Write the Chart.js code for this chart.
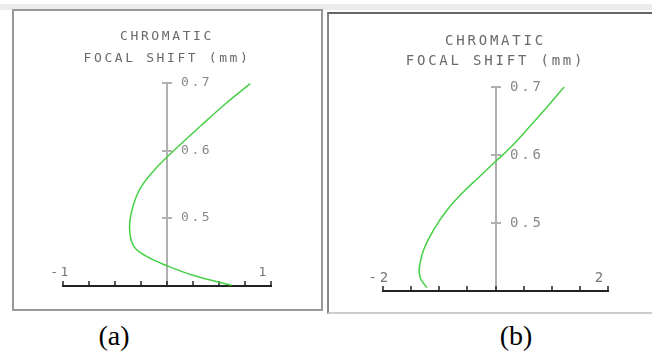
<!DOCTYPE html>
<html>
<head>
<meta charset="utf-8">
<script src="https://cdn.jsdelivr.net/npm/chart.js@4.4.1/dist/chart.umd.min.js"></script>
<style>
  html, body { margin: 0; padding: 0; background: #fff; }
  body { width: 652px; height: 352px; position: relative; overflow: hidden; }
  .band { position: absolute; left: 0; top: 4px; width: 652px; height: 6px; background: #ececec; }
  .frame { position: absolute; box-sizing: border-box; border: 2px solid #999; }
  #frameA { left: 12px; top: 9px; width: 311px; height: 302px; }
  #frameB { left: 327px; top: 12px; width: 340px; height: 302px; border-color: #666 #bbb #ccc #888; }
  canvas { position: absolute; }
  #chartA { left: 14px; top: 12px; }
  #chartB { left: 330px; top: 15px; }
  .caption { position: absolute; top: 320px; width: 60px; text-align: center;
             font-family: 'Liberation Serif', 'Times New Roman', serif; font-size: 28px; color: #000; }
</style>
</head>
<body>
<div class="band"></div>
<div class="frame" id="frameA"></div>
<div class="frame" id="frameB"></div>
<canvas id="chartA" width="305" height="296"></canvas>
<canvas id="chartB" width="322" height="296"></canvas>
<div class="caption" style="left:84px">(a)</div>
<div class="caption" style="left:486px">(b)</div>
<script>
const titleLines = ['CHROMATIC', 'FOCAL SHIFT (mm)'];
const yTicks = [0.5, 0.6, 0.7];
const yRange = [0.4, 0.7];

// (a) focal shift curve
const shiftAX = [0.80, 0.56, 0.32, 0.10, -0.10, -0.25, -0.33, -0.36, -0.32, -0.20, 0.00, 0.25, 0.62];
const shiftAY = [0.699, 0.669, 0.636, 0.605, 0.575, 0.546, 0.516, 0.485, 0.459, 0.444, 0.430, 0.416, 0.401];
const xRangeA = [-1, 1];
const xLabelsA = ['-1', '1'];

// (b) focal shift curve
const shiftBX = [1.22, 0.92, 0.60, 0.28, -0.02, -0.30, -0.58, -0.86, -1.10, -1.27, -1.35, -1.34, -1.22];
const shiftBY = [0.700, 0.671, 0.641, 0.612, 0.589, 0.567, 0.545, 0.519, 0.490, 0.462, 0.437, 0.420, 0.405];
const xRangeB = [-2, 2];
const xLabelsB = ['-2', '2'];

// axes crossing at x = 0, drawn from the chart's own scales
const crossAxes = {
    id: 'crossAxes',
    beforeDraw(chart, args, opts) {
        chart.ctx.letterSpacing = opts.spacing;
    },
    beforeDatasetsDraw(chart, args, opts) {
        const ctx = chart.ctx;
        const x = chart.scales.x;
        const y = chart.scales.y;
        const x0 = Math.round(x.getPixelForValue(0));
        const yBase = Math.round(y.getPixelForValue(y.min));
        ctx.save();
        ctx.letterSpacing = opts.spacing;
        ctx.font = opts.font;

        // vertical axis
        ctx.strokeStyle = '#b0b0b0';
        ctx.lineWidth = 2;
        ctx.beginPath();
        ctx.moveTo(x0, y.getPixelForValue(y.max));
        ctx.lineTo(x0, yBase);
        ctx.stroke();

        ctx.fillStyle = '#888';
        ctx.textAlign = 'left';
        ctx.textBaseline = 'middle';
        yTicks.forEach(v => {
            const py = Math.round(y.getPixelForValue(v));
            ctx.beginPath();
            ctx.moveTo(x0 - 5, py);
            ctx.lineTo(x0 + 5, py);
            ctx.stroke();
            ctx.fillText(v.toFixed(1), x0 + 14, py);
        });

        // bottom axis with upward ticks
        ctx.strokeStyle = '#222';
        ctx.lineWidth = 2;
        ctx.beginPath();
        ctx.moveTo(x.getPixelForValue(x.min) - 1, yBase);
        ctx.lineTo(x.getPixelForValue(x.max) + 1, yBase);
        ctx.stroke();
        ctx.lineWidth = 1.5;
        for (let i = 0; i <= 8; i++) {
            const px = Math.round(x.getPixelForValue(x.min + i * (x.max - x.min) / 8));
            ctx.beginPath();
            ctx.moveTo(px, yBase);
            ctx.lineTo(px, yBase - 5);
            ctx.stroke();
        }
        ctx.fillStyle = '#777';
        ctx.textAlign = 'right';
        ctx.fillText(opts.labels[0], x.getPixelForValue(x.min) + 8, yBase - 13);
        ctx.fillText(opts.labels[1], x.getPixelForValue(x.max) - 2, yBase - 13);
        ctx.restore();
    }
};

function focalChart(id, xs, ys, xRange, labels, cfg) {
    const el = document.getElementById(id);
    new Chart(el, {
        type: 'scatter',
        data: {
            datasets: [{
                data: xs.map((v, i) => ({ x: v, y: ys[i] })),
                showLine: true,
                borderColor: '#46d046',
                borderWidth: 1.5,
                pointRadius: 0,
                tension: 0.4,
                clip: false
            }]
        },
        options: {
            responsive: false,
            animation: false,
            events: [],
            layout: { padding: cfg.padding },
            plugins: {
                legend: { display: false },
                tooltip: { enabled: false },
                title: {
                    display: true,
                    text: titleLines,
                    fullSize: false,
                    color: '#6a6a6a',
                    font: { family: "'DejaVu Sans Mono', monospace", size: cfg.size, weight: 'normal', lineHeight: cfg.lineHeight / cfg.size },
                    padding: { top: 0, bottom: cfg.titleGap }
                },
                crossAxes: {
                    spacing: cfg.spacing,
                    font: cfg.size + "px 'DejaVu Sans Mono', monospace",
                    labels: labels
                }
            },
            scales: {
                x: { type: 'linear', min: xRange[0], max: xRange[1], display: false },
                y: { type: 'linear', min: yRange[0], max: yRange[1], display: false }
            }
        },
        plugins: [crossAxes]
    });
}

focalChart('chartA', shiftAX, shiftAY, xRangeA, xLabelsA, {
    padding: { left: 49, right: 48, top: 14, bottom: 22 },
    size: 13, lineHeight: 22, titleGap: 13, spacing: '2.6px'
});
focalChart('chartB', shiftBX, shiftBY, xRangeB, xLabelsB, {
    padding: { left: 53, right: 44, top: 16, bottom: 20 },
    size: 14, lineHeight: 20, titleGap: 16, spacing: '2.8px'
});
</script>
</body>
</html>
